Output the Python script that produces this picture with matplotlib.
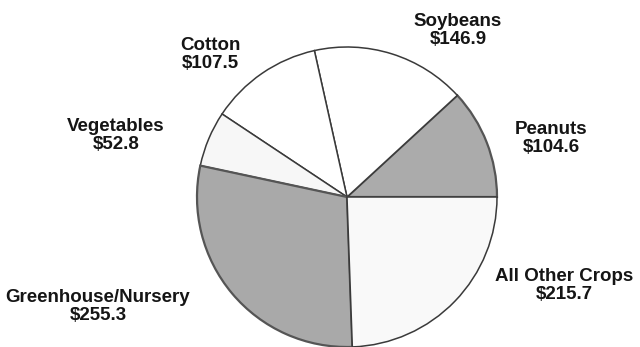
import matplotlib
matplotlib.use('Agg')
from matplotlib import pyplot as plt

crops = ['Peanuts', 'Soybeans', 'Cotton', 'Vegetables', 'Greenhouse/Nursery', 'All Other Crops']
values = [104.6, 146.9, 107.5, 52.8, 255.3, 215.7]
colors = ['#ababab', '#ffffff', '#ffffff', '#f7f7f7', '#a9a9a9', '#f9f9f9']

# label centres (in units of the pie radius)
label_x = [1.36, 0.74, -0.91, -1.54, -1.66, 1.45]
label_y = [0.39, 1.11, 0.95, 0.41, -0.73, -0.59]

plt.rcParams['font.family'] = ['Liberation Sans', 'DejaVu Sans']

fig = plt.figure(figsize=(6.4, 3.47), dpi=100)
# pie centre at about (347, 197) px, radius about 150 px
r_px = 150
ax = fig.add_axes([(347 - r_px) / 640, (347 - 197 - r_px) / 347, 2 * r_px / 640, 2 * r_px / 347])

wedges, _ = ax.pie(values, colors=colors, startangle=0, counterclock=True, radius=1,
                   wedgeprops={'edgecolor': '#3a3a3a', 'linewidth': 1.1})
# the shaded slices have a slightly heavier outline
for i in (0, 4):
    wedges[i].set_linewidth(1.6)
    wedges[i].set_edgecolor('#555555')
ax.set_xlim(-1, 1)
ax.set_ylim(-1, 1)
ax.set_aspect('equal')
ax.axis('off')

for name, val, x, y in zip(crops, values, label_x, label_y):
    ax.text(x, y, f'{name}\n${val:.1f}', ha='center', va='center',
            fontsize=13.5, fontweight='bold', color='#151515',
            linespacing=1.05, clip_on=False)

fig.savefig('out.png', dpi=100)
